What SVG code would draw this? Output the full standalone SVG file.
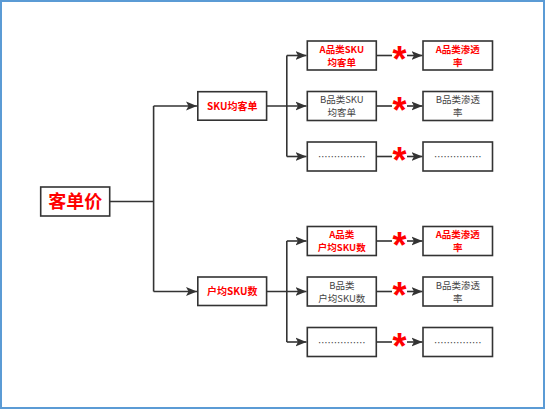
<svg xmlns="http://www.w3.org/2000/svg" width="545" height="409" viewBox="0 0 545 409">
<style>
.box{fill:#fff;stroke:#333;stroke-width:1.6}
.ln{fill:none;stroke:#333;stroke-width:1.6}
.t{font-family:"Noto Sans CJK SC",sans-serif;text-anchor:middle;font-size:9.5px}
.r{fill:#ff0000;font-weight:bold}
.g{fill:#444}
.star{font-family:"Liberation Sans",sans-serif;font-weight:bold;font-size:36px;fill:#ff0000;text-anchor:middle}
</style>
<defs>
<marker id="ah" markerUnits="userSpaceOnUse" markerWidth="12" markerHeight="10" refX="11" refY="5" orient="auto">
<path d="M0,0.5 L11,5 L0,9.5 L2.5,5 Z" fill="#333"/>
</marker>
</defs>
<rect x="1" y="1" width="543" height="407" fill="#fff" stroke="#5b9bd5" stroke-width="2"/>
<g id="connectors">
<path class="ln" d="M110,201.5 H153.6"/>
<path class="ln" d="M153.6,106 V291.5"/>
<path class="ln" d="M153.6,106 H197" marker-end="url(#ah)"/>
<path class="ln" d="M153.6,291.5 H197" marker-end="url(#ah)"/>
<path class="ln" d="M266.6,106 H306.5" marker-end="url(#ah)"/>
<path class="ln" d="M286.8,55.5 V156.5"/>
<path class="ln" d="M286.8,55.5 H306.5" marker-end="url(#ah)"/>
<path class="ln" d="M286.8,156.5 H306.5" marker-end="url(#ah)"/>
<path class="ln" d="M266.6,291.5 H306.5" marker-end="url(#ah)"/>
<path class="ln" d="M286.8,241 V342"/>
<path class="ln" d="M286.8,241 H306.5" marker-end="url(#ah)"/>
<path class="ln" d="M286.8,342 H306.5" marker-end="url(#ah)"/>
<g id="stars">
<path class="ln" d="M376.4,55.5 H392"/><path class="ln" d="M407,55.5 H422.5" marker-end="url(#ah)"/><text class="star" x="399.5" y="72">*</text>
<path class="ln" d="M376.4,106 H392"/><path class="ln" d="M407,106 H422.5" marker-end="url(#ah)"/><text class="star" x="399.5" y="122.5">*</text>
<path class="ln" d="M376.4,156.5 H392"/><path class="ln" d="M407,156.5 H422.5" marker-end="url(#ah)"/><text class="star" x="399.5" y="173">*</text>
<path class="ln" d="M376.4,241 H392"/><path class="ln" d="M407,241 H422.5" marker-end="url(#ah)"/><text class="star" x="399.5" y="257.5">*</text>
<path class="ln" d="M376.4,291.5 H392"/><path class="ln" d="M407,291.5 H422.5" marker-end="url(#ah)"/><text class="star" x="399.5" y="308">*</text>
<path class="ln" d="M376.4,342 H392"/><path class="ln" d="M407,342 H422.5" marker-end="url(#ah)"/><text class="star" x="399.5" y="358.5">*</text>
</g>
</g>
<g id="root"><rect class="box" x="40.7" y="187" width="69" height="29"/><text class="t r" x="75.2" y="208" style="font-size:18px">客单价</text></g>
<g id="sku-avg"><rect class="box" x="197.8" y="91.7" width="68.8" height="28.5"/><text class="t r" x="232.2" y="109.5" style="font-size:10px">SKU均客单</text></g>
<g id="hh-sku"><rect class="box" x="197.8" y="277" width="68.8" height="28.5"/><text class="t r" x="232.2" y="295" style="font-size:10px">户均SKU数</text></g>

<g id="a-sku"><rect class="box" x="307.3" y="41" width="69" height="29"/><text class="t r" x="341.8" y="52.8">A品类SKU</text><text class="t r" x="341.8" y="65.6">均客单</text></g>
<g id="b-sku"><rect class="box" x="307.3" y="91.5" width="69" height="29"/><text class="t g" x="341.8" y="103.3">B品类SKU</text><text class="t g" x="341.8" y="116.1">均客单</text></g>
<g id="etc-sku"><rect class="box" x="307.3" y="142" width="69" height="29"/><text class="t g" x="341.8" y="160">……………</text></g>
<g id="a-pen1"><rect class="box" x="423" y="41" width="69.5" height="29"/><text class="t r" x="457.8" y="52.8">A品类渗透</text><text class="t r" x="457.8" y="65.6">率</text></g>
<g id="b-pen1"><rect class="box" x="423" y="91.5" width="69.5" height="29"/><text class="t g" x="457.8" y="103.3">B品类渗透</text><text class="t g" x="457.8" y="116.1">率</text></g>
<g id="etc-pen1"><rect class="box" x="423" y="142" width="69.5" height="29"/><text class="t g" x="457.8" y="160">……………</text></g>

<g id="a-hh"><rect class="box" x="307.3" y="226.5" width="69" height="29"/><text class="t r" x="341.8" y="238.3">A品类</text><text class="t r" x="341.8" y="251.1">户均SKU数</text></g>
<g id="b-hh"><rect class="box" x="307.3" y="277" width="69" height="29"/><text class="t g" x="341.8" y="288.8">B品类</text><text class="t g" x="341.8" y="301.6">户均SKU数</text></g>
<g id="etc-hh"><rect class="box" x="307.3" y="327.5" width="69" height="29"/><text class="t g" x="341.8" y="345.5">……………</text></g>
<g id="a-pen2"><rect class="box" x="423" y="226.5" width="69.5" height="29"/><text class="t r" x="457.8" y="238.3">A品类渗透</text><text class="t r" x="457.8" y="251.1">率</text></g>
<g id="b-pen2"><rect class="box" x="423" y="277" width="69.5" height="29"/><text class="t g" x="457.8" y="288.8">B品类渗透</text><text class="t g" x="457.8" y="301.6">率</text></g>
<g id="etc-pen2"><rect class="box" x="423" y="327.5" width="69.5" height="29"/><text class="t g" x="457.8" y="345.5">……………</text></g>
</svg>
